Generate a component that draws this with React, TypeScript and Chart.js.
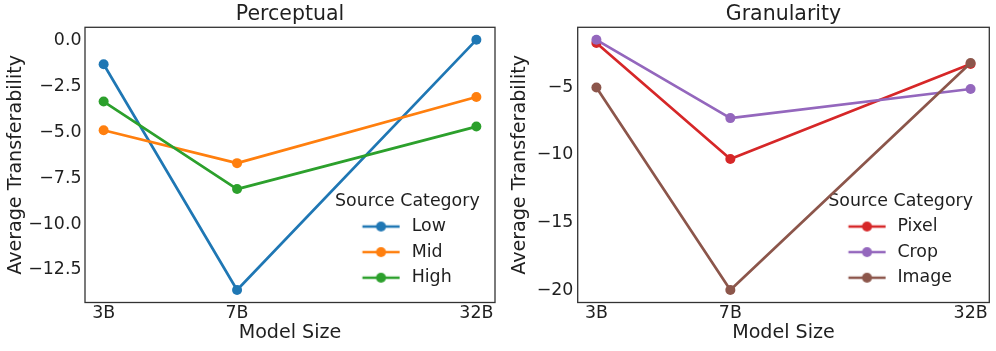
import React, { useEffect, useRef } from "react";
import { Chart, registerables } from "chart.js";

Chart.register(...registerables);

// ---------------- data ----------------
const MODEL_SIZES = [3, 7, 32];
const MODEL_LABELS = ["3B", "7B", "32B"];

const PERCEPTUAL_TITLE = "Perceptual";
const PERCEPTUAL_SERIES = ["Low", "Mid", "High"];
const PERCEPTUAL_LOW = [-1.31, -13.59, 0.02];
const PERCEPTUAL_MID = [-4.9, -6.69, -3.09];
const PERCEPTUAL_HIGH = [-3.34, -8.1, -4.7];
const PERCEPTUAL_TICKS = [0, -2.5, -5, -7.5, -10, -12.5];

const GRANULARITY_TITLE = "Granularity";
const GRANULARITY_SERIES = ["Pixel", "Crop", "Image"];
const GRANULARITY_PIXEL = [-1.74, -10.32, -3.29];
const GRANULARITY_CROP = [-1.5, -7.29, -5.14];
const GRANULARITY_IMAGE = [-5.03, -20.0, -3.22];
const GRANULARITY_TICKS = [-5, -10, -15, -20];

const Y_LABEL = "Average Transferability";
const X_LABEL = "Model Size";
const LEGEND_TITLE = "Source Category";

// ---------------- style ----------------
const FONT = "'DejaVu Sans', sans-serif";
const TEXT = "#1f1f1f";
const SPINE = "#333333";
const PERCEPTUAL_COLORS = ["#1f77b4", "#ff7f0e", "#2ca02c"];
const GRANULARITY_COLORS = ["#d62728", "#9467bd", "#8c564b"];
const H = 351;
const TICK_SIZE = 17.4;
const LEGEND_SIZE = 17.4;
const LEGEND_PAD = 8.2;

Chart.defaults.font.family = FONT;
Chart.defaults.color = TEXT;

type PanelCfg = {
  canvasLeft: number;
  canvasWidth: number;
  yAxisWidth: number;
  padRight: number;
  plotBottom: number;
  yTitlePad: number;
  yTickPad: number;
  tickDecimals: number;
  legendLeft: number;
  legendTop: number;
  pointStyleWidth: number;
  handleShift: number;
};

const LEFT_CFG: PanelCfg = {
  canvasLeft: 0,
  canvasWidth: 500,
  yAxisWidth: 85,
  padRight: 3.5,
  plotBottom: 302.5,
  yTitlePad: 4.7,
  yTickPad: 3.5,
  tickDecimals: 1,
  legendLeft: 335,
  legendTop: 192.8,
  pointStyleWidth: 59.8,
  handleShift: 7.9,
};

const RIGHT_CFG: PanelCfg = {
  canvasLeft: 500,
  canvasWidth: 496,
  yAxisWidth: 77.7,
  padRight: 6.7,
  plotBottom: 302.5,
  yTitlePad: 9,
  yTickPad: 4.3,
  tickDecimals: 0,
  legendLeft: 328.3,
  legendTop: 192.8,
  pointStyleWidth: 52.2,
  handleShift: 4.4,
};

function makeHandle(color: string, shift: number): HTMLCanvasElement {
  const half = 18.6;
  const w = Math.ceil(2 * (half + Math.abs(shift)) + 4);
  const h = 14;
  const c = document.createElement("canvas");
  c.width = w;
  c.height = h;
  const ctx = c.getContext("2d")!;
  const cx = w / 2 + shift;
  ctx.strokeStyle = color;
  ctx.lineWidth = 2.7;
  ctx.beginPath();
  ctx.moveTo(cx - half, h / 2);
  ctx.lineTo(cx + half, h / 2);
  ctx.stroke();
  ctx.fillStyle = color;
  ctx.beginPath();
  ctx.arc(cx, h / 2, 5, 0, Math.PI * 2);
  ctx.fill();
  return c;
}

function buildChart(
  canvas: HTMLCanvasElement,
  title: string,
  names: string[],
  values: number[][],
  colors: string[],
  yTicks: number[],
  cfg: PanelCfg
) {
  const all = values.flat();
  const dmin = Math.min(...all);
  const dmax = Math.max(...all);
  const my = (dmax - dmin) * 0.05;
  const lx0 = Math.log10(MODEL_SIZES[0]);
  const lx1 = Math.log10(MODEL_SIZES[MODEL_SIZES.length - 1]);
  const mx = (lx1 - lx0) * 0.05;
  const handles = colors.map((c) => makeHandle(c, cfg.handleShift));
  const fmt = (v: number) => {
    const s = Math.abs(v).toFixed(cfg.tickDecimals);
    return v < 0 ? "\u2212" + s : s;
  };
  const n = names.length;

  const framePlugin = {
    id: "frameAndLegend",
    afterLayout(chart: any) {
      const lg = chart.legend;
      if (lg) {
        lg.left = cfg.legendLeft;
        lg.top = cfg.legendTop;
        lg.right = chart.width;
        lg.bottom = chart.chartArea.bottom;
        lg.width = chart.width - cfg.legendLeft;
        lg.height = chart.chartArea.bottom - cfg.legendTop;
      }
    },
    afterDatasetsDraw(chart: any) {
      const { ctx, chartArea: a } = chart;
      ctx.save();
      ctx.strokeStyle = SPINE;
      ctx.lineWidth = 1.3;
      ctx.strokeRect(a.left, a.top, a.right - a.left, a.bottom - a.top);
      ctx.restore();
    },
  };

  return new Chart(canvas, {
    type: "line",
    data: {
      datasets: names.map((name, i) => ({
        label: name,
        data: MODEL_SIZES.map((x, j) => ({ x, y: values[i][j] })),
        borderColor: colors[i],
        backgroundColor: colors[i],
        pointBackgroundColor: colors[i],
        pointBorderColor: colors[i],
        borderWidth: 2.7,
        pointRadius: 5,
        pointHoverRadius: 5,
        pointBorderWidth: 0,
        borderJoinStyle: "round",
        tension: 0,
        fill: false,
        order: n - i,
      })),
    },
    options: {
      responsive: false,
      animation: false,
      devicePixelRatio: 1,
      events: [],
      layout: { padding: { left: 0, right: cfg.padRight, top: 0, bottom: 0 } },
      scales: {
        x: {
          type: "logarithmic",
          min: Math.pow(10, lx0 - mx),
          max: Math.pow(10, lx1 + mx),
          grid: { display: false, drawTicks: false, tickLength: 0 },
          border: { display: false },
          afterBuildTicks: (s: any) => {
            s.ticks = MODEL_SIZES.map((v) => ({ value: v }));
          },
          afterFit: (s: any) => {
            s.height = H - cfg.plotBottom;
          },
          ticks: {
            autoSkip: false,
            maxRotation: 0,
            minRotation: 0,
            padding: 0.9,
            color: TEXT,
            font: { size: TICK_SIZE },
            callback: (v: any) => {
              const idx = MODEL_SIZES.indexOf(Number(v));
              return idx >= 0 ? MODEL_LABELS[idx] : "";
            },
          },
          title: {
            display: true,
            text: X_LABEL,
            color: TEXT,
            font: { size: 19.1 },
            padding: { top: 0, bottom: 6.7 },
          },
        },
        y: {
          type: "linear",
          min: dmin - my,
          max: dmax + my,
          grid: { display: false, drawTicks: false, tickLength: 0 },
          border: { display: false },
          afterBuildTicks: (s: any) => {
            s.ticks = yTicks.map((v) => ({ value: v }));
          },
          afterFit: (s: any) => {
            s.width = cfg.yAxisWidth;
          },
          ticks: {
            autoSkip: false,
            padding: cfg.yTickPad,
            color: TEXT,
            font: { size: TICK_SIZE },
            callback: (v: any) => fmt(Number(v)),
          },
          title: {
            display: true,
            text: Y_LABEL,
            color: TEXT,
            font: { size: 19.1 },
            padding: { top: cfg.yTitlePad, bottom: 0 },
          },
        },
      },
      plugins: {
        tooltip: { enabled: false },
        title: {
          display: true,
          text: title,
          fullSize: false,
          color: TEXT,
          font: { size: 20.5, weight: "normal" },
          padding: { top: 2.3, bottom: 0.4 },
        },
        legend: {
          display: true,
          position: "chartArea",
          align: "start",
          title: {
            display: true,
            text: LEGEND_TITLE,
            position: "start",
            color: TEXT,
            font: { size: LEGEND_SIZE, lineHeight: 0.966 },
            padding: 0,
          },
          labels: {
            usePointStyle: true,
            pointStyleWidth: cfg.pointStyleWidth,
            padding: LEGEND_PAD,
            color: TEXT,
            font: { size: LEGEND_SIZE },
            sort: (a: any, b: any) => a.datasetIndex - b.datasetIndex,
            generateLabels: (chart: any) => {
              const items = (Chart.defaults.plugins.legend.labels as any).generateLabels(chart);
              return items.map((it: any) => ({ ...it, pointStyle: handles[it.datasetIndex] }));
            },
          },
        },
      },
    } as any,
    plugins: [framePlugin],
  });
}

function Panel(props: {
  title: string;
  names: string[];
  values: number[][];
  colors: string[];
  yTicks: number[];
  cfg: PanelCfg;
}) {
  const ref = useRef<HTMLCanvasElement>(null);
  useEffect(() => {
    const chart = buildChart(
      ref.current!,
      props.title,
      props.names,
      props.values,
      props.colors,
      props.yTicks,
      props.cfg
    );
    return () => chart.destroy();
  }, []);
  const { cfg } = props;
  return (
    <canvas
      ref={ref}
      width={cfg.canvasWidth}
      height={H}
      style={{
        position: "absolute",
        left: cfg.canvasLeft,
        top: 0,
        width: cfg.canvasWidth,
        height: H,
      }}
    />
  );
}

export default function App() {
  return (
    <div
      style={{
        position: "absolute",
        left: 0,
        top: 0,
        width: 996,
        height: H,
        background: "#ffffff",
      }}
    >
      <Panel
        title={PERCEPTUAL_TITLE}
        names={PERCEPTUAL_SERIES}
        values={[PERCEPTUAL_LOW, PERCEPTUAL_MID, PERCEPTUAL_HIGH]}
        colors={PERCEPTUAL_COLORS}
        yTicks={PERCEPTUAL_TICKS}
        cfg={LEFT_CFG}
      />
      <Panel
        title={GRANULARITY_TITLE}
        names={GRANULARITY_SERIES}
        values={[GRANULARITY_PIXEL, GRANULARITY_CROP, GRANULARITY_IMAGE]}
        colors={GRANULARITY_COLORS}
        yTicks={GRANULARITY_TICKS}
        cfg={RIGHT_CFG}
      />
    </div>
  );
}
